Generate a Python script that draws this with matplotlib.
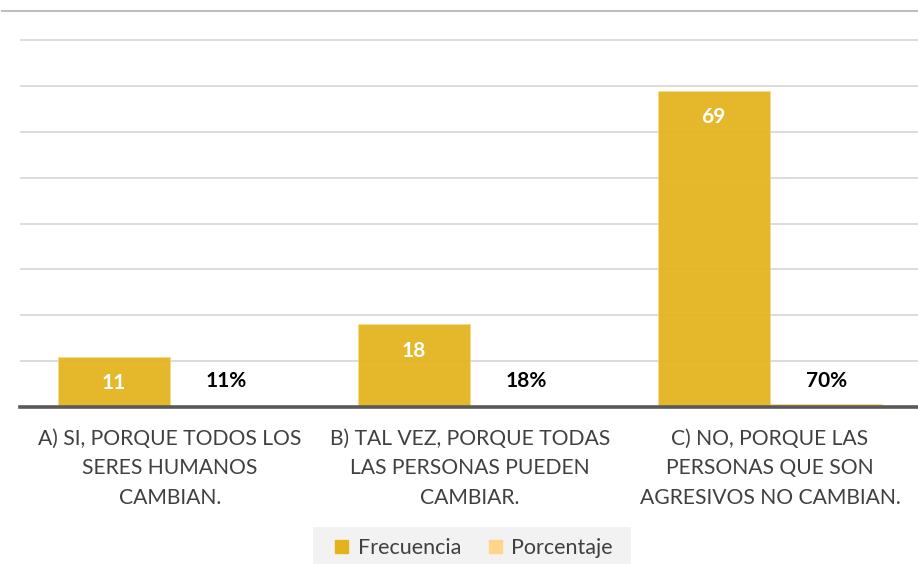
import matplotlib
matplotlib.use("Agg")
import matplotlib.pyplot as plt
from matplotlib.patches import Patch, Rectangle
from matplotlib.lines import Line2D
import numpy as np

categories = ["A) SI, PORQUE TODOS LOS\nSERES HUMANOS\nCAMBIAN.",
              "B) TAL VEZ, PORQUE TODAS\nLAS PERSONAS PUEDEN\nCAMBIAR.",
              "C) NO, PORQUE LAS\nPERSONAS QUE SON\nAGRESIVOS NO CAMBIAN."]
frecuencia = [11, 18, 69]
porcentaje = [0.11, 0.18, 0.70]
series_names = ["Frecuencia", "Porcentaje"]

plt.rcParams['font.family'] = ['Lato', 'DejaVu Sans']

W, H = 918, 564
fig = plt.figure(figsize=(W/100, H/100), dpi=100)
ax_left, ax_right = 20, 918
ax_bottom, ax_top = 407, 12.7
ax = fig.add_axes([ax_left/W, (H-ax_bottom)/H, (ax_right-ax_left)/W, (ax_bottom-ax_top)/H])

c1 = '#E3B31B'
c2 = '#FFD58A'
x = np.arange(len(categories))
bw = 0.375
b1 = ax.bar(x - bw/2, frecuencia, bw, color=c1, alpha=0.93, edgecolor='#F2DC8E', linewidth=0.6, zorder=3)
b2 = ax.bar(x + bw/2, porcentaje, bw, color=c2, zorder=3)

ax.set_xlim(-0.5, -0.5 + (ax_right-ax_left)/300)
ax.set_ylim(0, 86)
ax.set_yticks(np.arange(10, 81, 10))
ax.yaxis.grid(True, color='#D9D9D9', linewidth=1.3, zorder=1)
ax.set_axisbelow(False)
for s in ['top', 'right', 'left']:
    ax.spines[s].set_visible(False)
ax.spines['bottom'].set_color('#595959')
ax.spines['bottom'].set_linewidth(2.6)
ax.spines['bottom'].set_zorder(5)
ax.tick_params(axis='y', left=False, labelleft=False)
ax.tick_params(axis='x', bottom=False, pad=12)
ax.set_xticks(x)
ax.set_xticklabels(categories, fontsize=15.2, color='#404040', linespacing=1.62)

for rect, v in zip(b1, frecuencia):
    ax.annotate(str(v), (rect.get_x() + rect.get_width()/2, v), xytext=(0, -19),
                textcoords='offset points', ha='center', va='center',
                color='white', fontsize=15, fontweight='bold', zorder=6)
for rect, v in zip(b2, porcentaje):
    ax.annotate(f"{round(v*100)}%", (rect.get_x() + rect.get_width()/2, 0), xytext=(0, 19),
                textcoords='offset points', ha='center', va='center',
                color='black', fontsize=15, fontweight='bold', zorder=6)

# top border line
fig.add_artist(Line2D([2/W, 1], [(H-11)/H, (H-11)/H], color='#BFBFBF', linewidth=1.5))

# legend background box
fig.add_artist(Rectangle((313/W, 0), (631-313)/W, (H-527)/H, transform=fig.transFigure,
                         facecolor='#F2F2F2', edgecolor='none', zorder=0))

handles = [Patch(color=c1, label=series_names[0]), Patch(color=c2, label=series_names[1])]
leg = fig.legend(handles=handles, loc='center', bbox_to_anchor=(474/W, (H-548)/H), ncol=2,
                 frameon=False, fontsize=15.5, handlelength=0.6, handleheight=0.6,
                 handletextpad=0.45, columnspacing=1.3)
for t in leg.get_texts():
    t.set_color('#404040')

fig.savefig('out.png', dpi=100)
